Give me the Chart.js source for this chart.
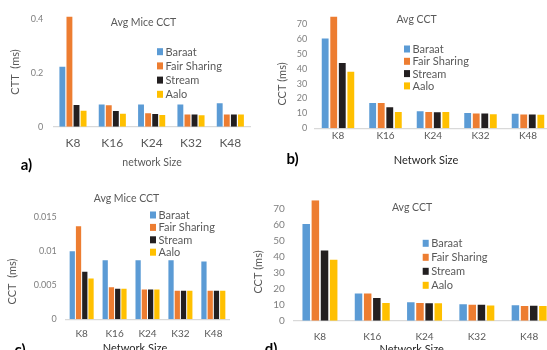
<!DOCTYPE html>
<html>
<head>
<meta charset="utf-8">
<script src="https://cdn.jsdelivr.net/npm/chart.js@4/dist/chart.umd.min.js"></script>
<style>
  html, body { margin: 0; padding: 0; background: #fff; }
  body { width: 547px; height: 350px; overflow: hidden; position: relative; font-family: Lato, sans-serif; }
  canvas { position: absolute; }
  .tag { position: absolute; font: bold 15px Lato, sans-serif; color: #000; line-height: 1; transform: translate(-50%, -50%); }
</style>
</head>
<body>
<canvas id="chartA" width="270" height="175" style="left:0;top:0"></canvas>
<canvas id="chartB" width="285" height="175" style="left:270px;top:0"></canvas>
<canvas id="chartC" width="250" height="190" style="left:0;top:175px"></canvas>
<canvas id="chartD" width="330" height="190" style="left:240px;top:175px"></canvas>
<div class="tag" style="left:26.5px;top:164px">a)</div>
<div class="tag" style="left:292.5px;top:158px">b)</div>
<div class="tag" style="left:20px;top:349px">c)</div>
<div class="tag" style="left:271px;top:348px">d)</div>
<script>
// Network sizes and schedulers compared
const networkSizes = ['K8', 'K16', 'K24', 'K32', 'K48'];
const schedulers = ['Baraat', 'Fair Sharing', 'Stream', 'Aalo'];

// a) average mice coflow completion time (ms)
const miceCctBaraat = [0.223, 0.083, 0.083, 0.083, 0.087];
const miceCctFair   = [0.41, 0.080, 0.050, 0.045, 0.045];
const miceCctStream = [0.081, 0.058, 0.047, 0.045, 0.045];
const miceCctAalo   = [0.059, 0.048, 0.044, 0.043, 0.045];

// b) and d) average coflow completion time (ms)
const cctBaraat = [60.3, 17.0, 11.5, 10.2, 9.7];
const cctFair   = [75.0, 16.9, 11.0, 10.0, 9.2];
const cctStream = [43.8, 14.2, 10.8, 10.0, 9.3];
const cctAalo   = [38.0, 11.0, 10.9, 9.4, 9.1];

// c) average mice coflow completion time (ms), second run
const miceCct2Baraat = [0.0100, 0.0087, 0.0087, 0.0087, 0.0085];
const miceCct2Fair   = [0.0137, 0.0047, 0.0044, 0.0042, 0.0042];
const miceCct2Stream = [0.0070, 0.0045, 0.0044, 0.0042, 0.0042];
const miceCct2Aalo   = [0.0060, 0.0045, 0.0044, 0.0042, 0.0042];

const seriesColors = ['#5B9BD5', '#ED7D31', '#231F20', '#FFC000'];
const FONT = 'Lato, sans-serif';

// Title, legend and axis titles drawn on top of each panel
const panelDecor = {
  id: 'panelDecor',
  afterDraw(chart, args, o) {
    const ctx = chart.ctx;
    ctx.save();
    ctx.textBaseline = 'middle';

    ctx.font = `${o.title.size}px ${FONT}`;
    ctx.fillStyle = '#595959';
    ctx.textAlign = 'center';
    ctx.fillText(o.title.text, o.title.x, o.title.y);

    ctx.textAlign = 'left';
    ctx.font = `11px ${FONT}`;
    chart.data.datasets.forEach((ds, i) => {
      const y = o.legend.y + i * o.legend.gap;
      ctx.fillStyle = ds.backgroundColor;
      ctx.fillRect(o.legend.x, y - 3.5, 6, 7);
      ctx.fillStyle = '#595959';
      ctx.fillText(ds.label, o.legend.x + 8.5, y + 0.5);
    });

    ctx.textAlign = 'center';
    ctx.font = `${o.xTitle.size}px ${FONT}`;
    ctx.fillStyle = o.xTitle.color;
    ctx.fillText(o.xTitle.text, o.xTitle.x, o.xTitle.y);

    ctx.translate(o.yTitle.x, o.yTitle.y);
    ctx.rotate(-Math.PI / 2);
    ctx.font = `11px ${FONT}`;
    ctx.fillStyle = '#595959';
    ctx.fillText(o.yTitle.text, 0, 0);
    ctx.restore();
  }
};

function makePanel(id, series, p) {
  const canvas = document.getElementById(id);
  const W = canvas.width, H = canvas.height;
  const a = p.area;
  const step = p.yStep;
  new Chart(canvas, {
    type: 'bar',
    data: {
      labels: networkSizes,
      datasets: schedulers.map((name, i) => ({
        label: name,
        data: series[i],
        backgroundColor: seriesColors[i],
        borderWidth: 0,
        categoryPercentage: p.catPct,
        barPercentage: p.barPct
      }))
    },
    options: {
      responsive: false,
      animation: false,
      layout: { padding: { left: 0, right: W - a.r, top: a.t, bottom: 0 } },
      plugins: {
        legend: { display: false },
        tooltip: { enabled: false },
        panelDecor: p.decor
      },
      scales: {
        x: {
          grid: { display: false, drawTicks: false },
          border: { display: true, color: '#d9d9d9', width: 1.2 },
          ticks: {
            color: '#595959',
            font: { family: FONT, size: p.xTickSize },
            padding: p.xLabelY - a.b - 0.6 * p.xTickSize,
            maxRotation: 0
          },
          afterFit(scale) { scale.height = H - a.b; }
        },
        y: {
          min: 0,
          max: p.yMax,
          grid: { display: false, drawTicks: false },
          border: { display: false },
          ticks: {
            stepSize: step,
            includeBounds: false,
            color: '#7f7f7f',
            font: { family: FONT, size: p.yTickSize },
            padding: p.yTickPad,
            callback: v => String(+Number(v).toFixed(4))
          },
          afterBuildTicks(scale) {
            scale.ticks = scale.ticks.filter(t => Math.abs(t.value / step - Math.round(t.value / step)) < 1e-6);
          },
          afterFit(scale) { scale.width = a.l; }
        }
      }
    },
    plugins: [panelDecor]
  });
}

makePanel('chartA', [miceCctBaraat, miceCctFair, miceCctStream, miceCctAalo], {
  area: { l: 53.3, r: 250, t: 16.6, b: 126.7 },
  yMax: 0.41, yStep: 0.2, yTickSize: 9, yTickPad: 10,
  xTickSize: 12, xLabelY: 143,
  catPct: 0.72, barPct: 0.83,
  decor: {
    title: { text: 'Avg Mice CCT', x: 143.5, y: 23, size: 10.5 },
    legend: { x: 157, y: 51.7, gap: 14.2 },
    xTitle: { text: 'network Size', x: 152, y: 163, size: 10.5, color: '#595959' },
    yTitle: { text: 'CTT  (ms)', x: 15, y: 72 }
  }
});

makePanel('chartB', [cctBaraat, cctFair, cctStream, cctAalo], {
  area: { l: 44.25, r: 281.75, t: 16.55, b: 128.3 },
  yMax: 75, yStep: 10, yTickSize: 9, yTickPad: 7,
  xTickSize: 10, xLabelY: 136,
  catPct: 0.72, barPct: 0.8,
  decor: {
    title: { text: 'Avg CCT', x: 146.5, y: 20, size: 10.5 },
    legend: { x: 134, y: 49, gap: 12.3 },
    xTitle: { text: 'Network Size', x: 156, y: 160, size: 11, color: '#262626' },
    yTitle: { text: 'CCT (ms)', x: 12, y: 84 }
  }
});

makePanel('chartC', [miceCct2Baraat, miceCct2Fair, miceCct2Stream, miceCct2Aalo], {
  area: { l: 65.2, r: 229.8, t: 42.3, b: 144.3 },
  yMax: 0.015, yStep: 0.005, yTickSize: 9, yTickPad: 8.5,
  xTickSize: 10, xLabelY: 159,
  catPct: 0.76, barPct: 0.84,
  decor: {
    title: { text: 'Avg Mice CCT', x: 126.5, y: 24, size: 10.5 },
    legend: { x: 150, y: 40, gap: 12.4 },
    xTitle: { text: 'Network Size', x: 135, y: 173, size: 11, color: '#262626' },
    yTitle: { text: 'CCT  (ms)', x: 12, y: 106.5 }
  }
});

makePanel('chartD', [cctBaraat, cctFair, cctStream, cctAalo], {
  area: { l: 53.8, r: 315.3, t: 25.3, b: 145.7 },
  yMax: 75, yStep: 10, yTickSize: 10, yTickPad: 9,
  xTickSize: 10, xLabelY: 161.7,
  catPct: 0.70, barPct: 0.82,
  decor: {
    title: { text: 'Avg CCT', x: 172, y: 32.3, size: 10.5 },
    legend: { x: 182.7, y: 68.3, gap: 14 },
    xTitle: { text: 'Network Size', x: 171.7, y: 174, size: 11, color: '#262626' },
    yTitle: { text: 'CCT (ms)', x: 18, y: 97 }
  }
});
</script>
</body>
</html>
